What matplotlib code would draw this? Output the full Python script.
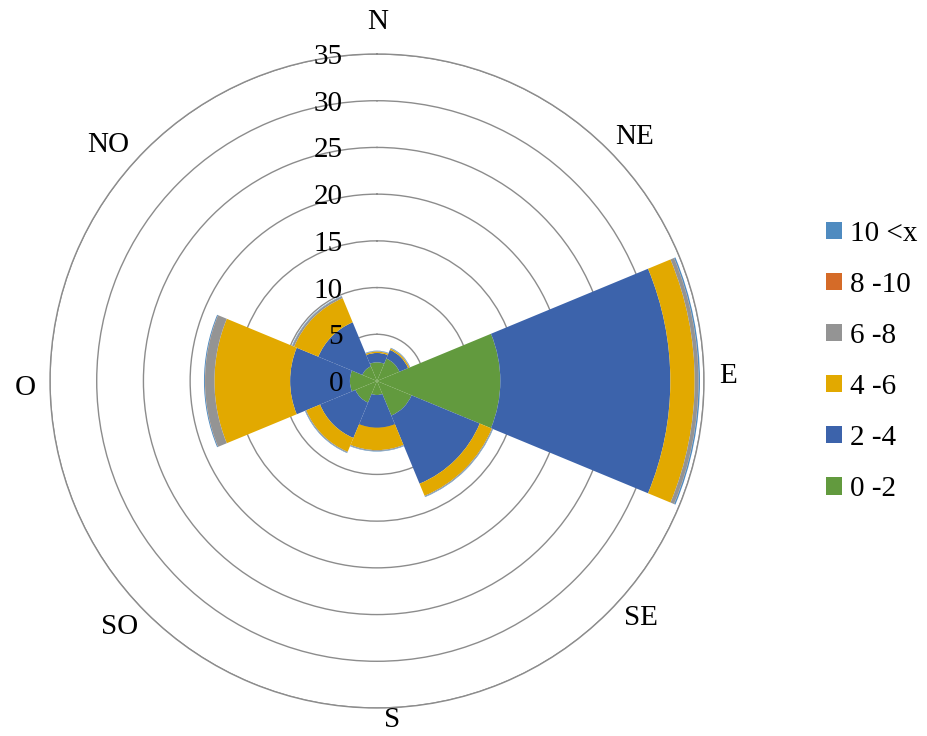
import matplotlib.pyplot as plt
import numpy as np

plt.rcParams['font.family'] = ['Liberation Serif', 'DejaVu Serif']

directions = ["N", "NE", "E", "SE", "S", "SO", "O", "NO"]
bins = ["0 -2", "2 -4", "4 -6", "6 -8", "8 -10", "10 <x"]

# frequency per speed class (stacked), one value per direction
f_0_2 = [2.0, 2.6, 13.2, 4.0, 1.5, 2.5, 2.9, 1.7]
f_2_4 = [1.0, 1.0, 18.2, 7.9, 3.5, 4.1, 6.4, 5.1]
f_4_6 = [0.15, 0.15, 2.6, 1.4, 2.4, 1.6, 8.1, 2.8]
f_6_8 = [0.05, 0.05, 0.4, 0.1, 0.1, 0.1, 1.0, 0.2]
f_8_10 = [0.0, 0.0, 0.02, 0.0, 0.0, 0.0, 0.02, 0.0]
f_10 = [0.05, 0.05, 0.15, 0.05, 0.05, 0.05, 0.1, 0.05]

series = [f_0_2, f_2_4, f_4_6, f_6_8, f_8_10, f_10]
colors = ["#629a3e", "#3c63ab", "#e2a900", "#949494", "#d56b28", "#4f8bc0"]

r_ticks = [0, 5, 10, 15, 20, 25, 30, 35]

fig = plt.figure(figsize=(9.28, 7.36), dpi=100)
ax = fig.add_axes([50 / 928, 28 / 736, 654 / 928, 654 / 736], projection='polar')
ax.set_theta_zero_location('N')
ax.set_theta_direction(-1)
ax.set_axisbelow(True)

theta = np.deg2rad(np.arange(0, 360, 45))
bottom = np.zeros(len(directions))
handles = []
for vals, col, lab in zip(series, colors, bins):
    b = ax.bar(theta, vals, width=np.pi / 4, bottom=bottom, color=col,
               edgecolor='none', label=lab, zorder=2)
    handles.append(b)
    bottom = bottom + np.array(vals)

ax.set_ylim(0, 35)
ax.set_yticks(r_ticks[1:])
ax.set_yticklabels([])
ax.set_xticks([])
ax.yaxis.grid(True, color='#8c8c8c', linewidth=1.0)
ax.spines['polar'].set_color('#8c8c8c')
ax.spines['polar'].set_linewidth(1.0)

# radial labels, to the left of the north axis
for r in r_ticks:
    ax.annotate(str(r), xy=(0, r), xytext=(-24.5, -2.2), textcoords='offset points',
                ha='right', va='center', fontsize=21, zorder=5)

# direction labels (offsets from centre in pixels)
label_pos = {"N": (1, -359), "NE": (258, -244), "E": (351, -5), "SE": (264, 237),
             "S": (15, 339), "SO": (-257, 246), "O": (-352, 7), "NO": (-269, -236)}
for d in directions:
    dx, dy = label_pos[d]
    ax.annotate(d, xy=(0, 0), xytext=(dx * 0.72, -dy * 0.72), textcoords='offset points',
                ha='center', va='center', fontsize=21, annotation_clip=False)

fig.legend(handles[::-1], bins[::-1], loc='upper left', bbox_to_anchor=(814 / 928, 1 - 209 / 736),
           frameon=False, fontsize=21, handlelength=0.55, handleheight=0.55,
           handletextpad=0.3, labelspacing=0.86, borderaxespad=0)

fig.savefig('out.png', dpi=100)
